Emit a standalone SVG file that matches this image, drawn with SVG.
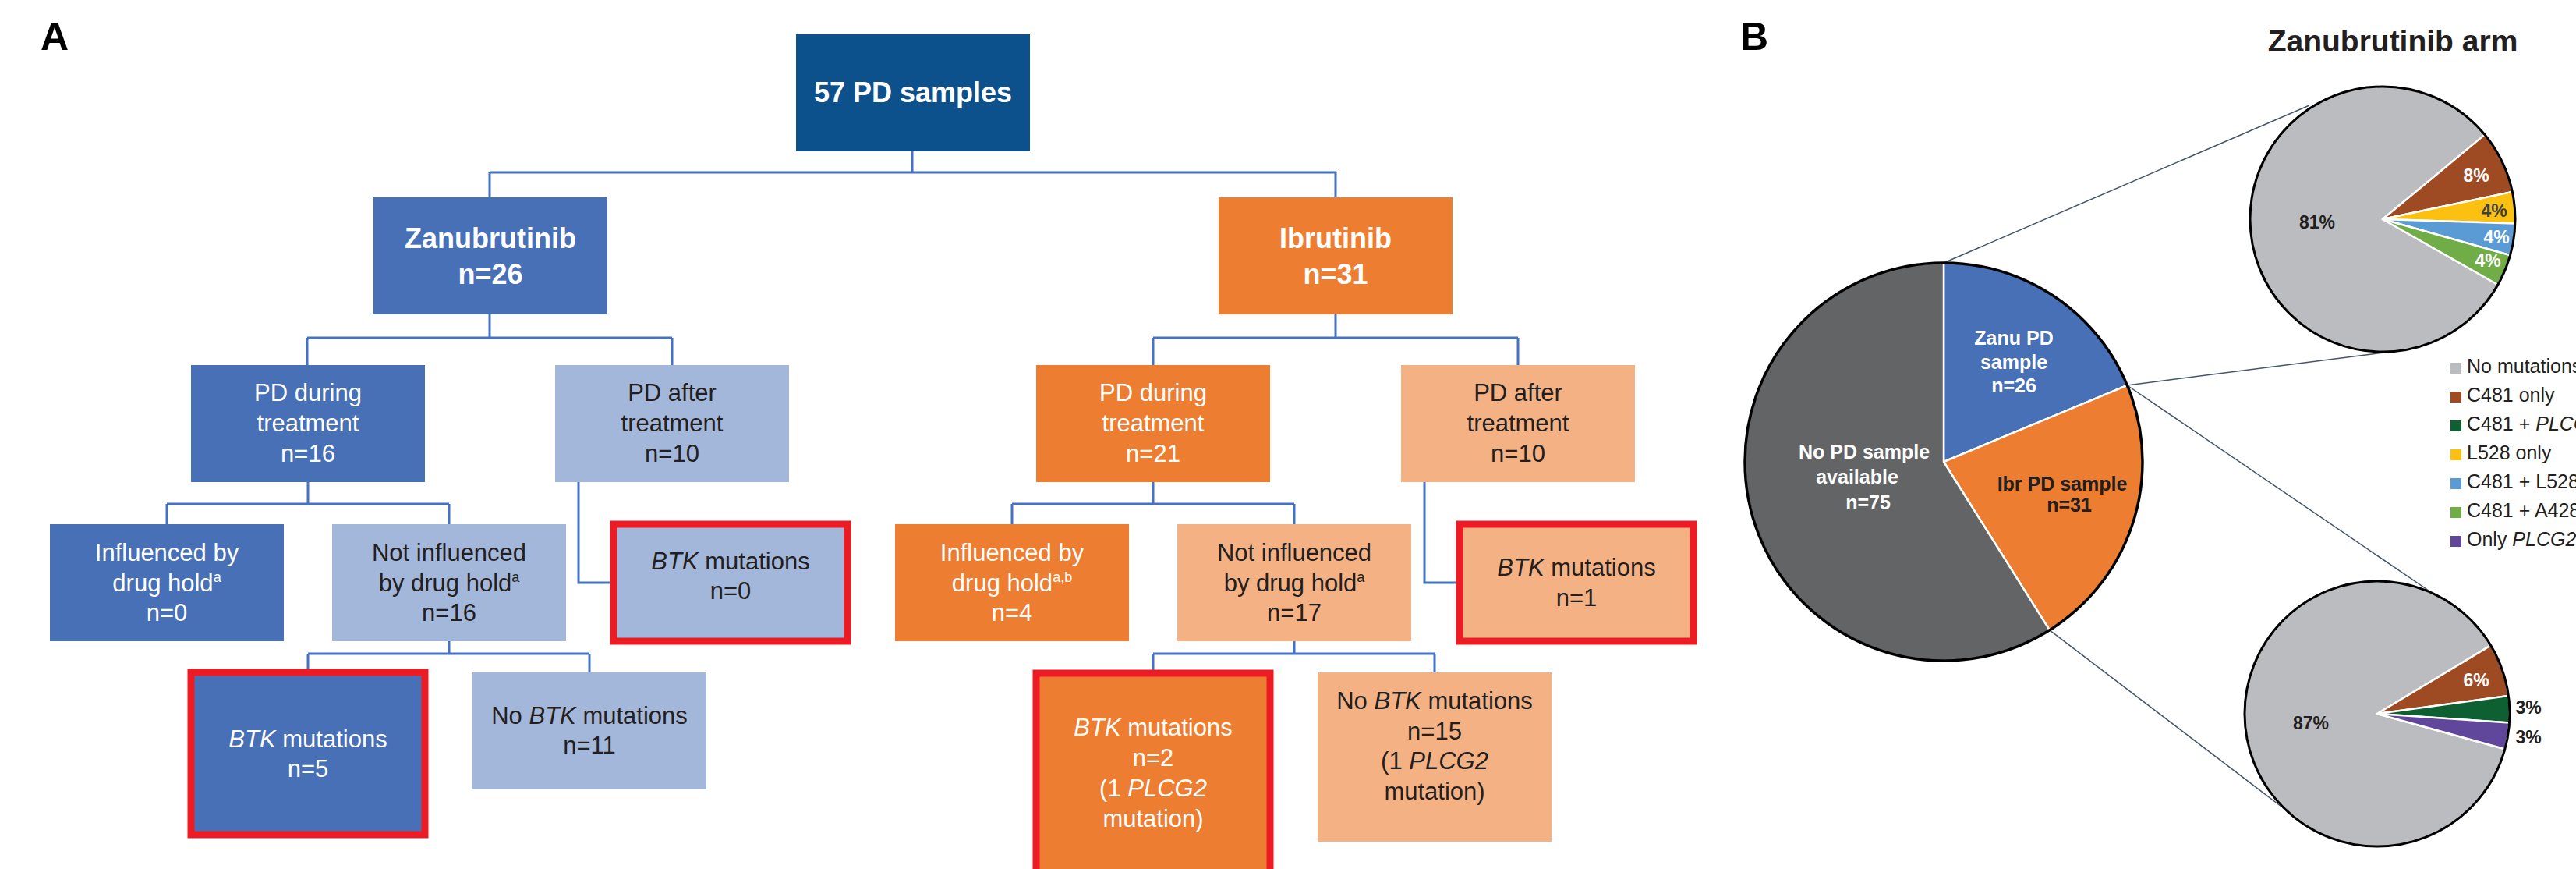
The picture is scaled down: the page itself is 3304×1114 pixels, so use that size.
<svg xmlns="http://www.w3.org/2000/svg" width="3304" height="1114" viewBox="0 0 3304 1114">
<style>
text{font-family:"Liberation Sans",Arial,sans-serif;}
.t{font-size:31px;text-anchor:middle;}
.w{fill:#fff;}
.k{fill:#231F20;}
.h{font-size:36px;font-weight:bold;text-anchor:middle;fill:#fff;}
.lbl{font-size:50px;font-weight:bold;fill:#000;}
.red{stroke:#ED1C24;stroke-width:9;}
.conn{fill:none;stroke:#4472C4;stroke-width:3;}
.zoom{fill:none;stroke:#44546A;stroke-width:1.5;}
.sl{stroke:#fff;stroke-width:2.5;stroke-linejoin:round;}
.rim{fill:none;stroke:#000;stroke-width:3.5;}
.lg{font-size:25px;fill:#231F20;}
.pl{font-size:23px;font-weight:bold;text-anchor:middle;}
.pb{font-size:25px;font-weight:bold;text-anchor:middle;}
.i{font-style:italic;}
.sup{font-size:18px;}
.c1{fill:#0D518C;} .c2{fill:#4770B7;} .c3{fill:#A3B7DA;} .c4{fill:#ED7D31;} .c5{fill:#F4B183;}
</style>

<text class="lbl" x="52" y="64">A</text>
<text class="lbl" x="2232" y="64">B</text>

<g id="connectors" class="conn">
<path d="M1170,194V221M628,221H1713M628,221V253M1713,221V253"/>
<path d="M628,403V433M394,433H862M394,433V468M862,433V468"/>
<path d="M1713,403V433M1479,433H1947M1479,433V468M1947,433V468"/>
<path d="M395,618V646M214,646H576M214,646V672M576,646V672"/>
<path d="M742,618V747H787"/>
<path d="M1479,618V646M1298,646H1660M1298,646V672M1660,646V672"/>
<path d="M1827,618V747H1872"/>
<path d="M576,822V838M395,838H756M395,838V862M756,838V862"/>
<path d="M1660,822V838M1479,838H1840M1479,838V863M1840,838V862"/>
</g>

<g id="n-root"><rect class="c1" x="1021" y="44" width="300" height="150"/><text class="h" x="1171" y="131">57 PD samples</text></g>

<g id="n-zanu"><rect class="c2" x="479" y="253" width="300" height="150"/><text class="h" x="629" y="318">Zanubrutinib</text><text class="h" x="629" y="364">n=26</text></g>
<g id="n-ibr"><rect class="c4" x="1563" y="253" width="300" height="150"/><text class="h" x="1713" y="318">Ibrutinib</text><text class="h" x="1713" y="364">n=31</text></g>

<g id="n-zanu-during"><rect class="c2" x="245" y="468" width="300" height="150"/><text class="t w" x="395" y="514">PD during</text><text class="t w" x="395" y="553">treatment</text><text class="t w" x="395" y="592">n=16</text></g>
<g id="n-zanu-after"><rect class="c3" x="712" y="468" width="300" height="150"/><text class="t k" x="862" y="514">PD after</text><text class="t k" x="862" y="553">treatment</text><text class="t k" x="862" y="592">n=10</text></g>
<g id="n-ibr-during"><rect class="c4" x="1329" y="468" width="300" height="150"/><text class="t w" x="1479" y="514">PD during</text><text class="t w" x="1479" y="553">treatment</text><text class="t w" x="1479" y="592">n=21</text></g>
<g id="n-ibr-after"><rect class="c5" x="1797" y="468" width="300" height="150"/><text class="t k" x="1947" y="514">PD after</text><text class="t k" x="1947" y="553">treatment</text><text class="t k" x="1947" y="592">n=10</text></g>

<g id="n-zanu-infl"><rect class="c2" x="64" y="672" width="300" height="150"/><text class="t w" x="214" y="719">Influenced by</text><text class="t w" x="214" y="758">drug hold<tspan class="sup" dy="-12">a</tspan></text><text class="t w" x="214" y="796">n=0</text></g>
<g id="n-zanu-notinfl"><rect class="c3" x="426" y="672" width="300" height="150"/><text class="t k" x="576" y="719">Not influenced</text><text class="t k" x="576" y="758">by drug hold<tspan class="sup" dy="-12">a</tspan></text><text class="t k" x="576" y="796">n=16</text></g>
<g id="n-zanu-btk0"><rect class="c3 red" x="787" y="672" width="300" height="150"/><text class="t k" x="937" y="730"><tspan class="i">BTK</tspan> mutations</text><text class="t k" x="937" y="768">n=0</text></g>
<g id="n-ibr-infl"><rect class="c4" x="1148" y="672" width="300" height="150"/><text class="t w" x="1298" y="719">Influenced by</text><text class="t w" x="1298" y="758">drug hold<tspan class="sup" dy="-12">a,b</tspan></text><text class="t w" x="1298" y="796">n=4</text></g>
<g id="n-ibr-notinfl"><rect class="c5" x="1510" y="672" width="300" height="150"/><text class="t k" x="1660" y="719">Not influenced</text><text class="t k" x="1660" y="758">by drug hold<tspan class="sup" dy="-12">a</tspan></text><text class="t k" x="1660" y="796">n=17</text></g>
<g id="n-ibr-btk1"><rect class="c5 red" x="1872" y="672" width="300" height="150"/><text class="t k" x="2022" y="738"><tspan class="i">BTK</tspan> mutations</text><text class="t k" x="2022" y="777">n=1</text></g>

<g id="n-zanu-btk5"><rect class="c2 red" x="245" y="862" width="300" height="208"/><text class="t w" x="395" y="958"><tspan class="i">BTK</tspan> mutations</text><text class="t w" x="395" y="996">n=5</text></g>
<g id="n-zanu-nobtk"><rect class="c3" x="606" y="862" width="300" height="150"/><text class="t k" x="756" y="928">No <tspan class="i">BTK</tspan> mutations</text><text class="t k" x="756" y="966">n=11</text></g>
<g id="n-ibr-btk2"><rect class="c4 red" x="1329" y="863" width="300" height="275"/><text class="t w" x="1479" y="943"><tspan class="i">BTK</tspan> mutations</text><text class="t w" x="1479" y="982">n=2</text><text class="t w" x="1479" y="1021">(1 <tspan class="i">PLCG2</tspan></text><text class="t w" x="1479" y="1060">mutation)</text></g>
<g id="n-ibr-nobtk"><rect class="c5" x="1690" y="862" width="300" height="217"/><text class="t k" x="1840" y="909">No <tspan class="i">BTK</tspan> mutations</text><text class="t k" x="1840" y="948">n=15</text><text class="t k" x="1840" y="986">(1 <tspan class="i">PLCG2</tspan></text><text class="t k" x="1840" y="1025">mutation)</text></g>

<!-- Panel B -->
<g id="zoom-lines" class="zoom">
<path d="M2493,337L2962,135"/>
<path d="M2728.4,494L3057,452"/>
<path d="M2728.4,494L3121.5,761.5"/>
<path d="M2628.9,807.8L2926,1034"/>
</g>

<g id="pie-main">
<path class="sl" fill="#4770B7" d="M2493,592L2493,337A255,255 0 0 1 2728.4,494Z"/>
<path class="sl" fill="#ED7D31" d="M2493,592L2728.4,494A255,255 0 0 1 2628.9,807.8Z"/>
<path class="sl" fill="#636466" d="M2493,592L2628.9,807.8A255,255 0 1 1 2493,337Z"/>
<circle class="rim" cx="2493" cy="592" r="255"/>
<text class="pb w" x="2583" y="442">Zanu PD</text>
<text class="pb w" x="2583" y="473">sample</text>
<text class="pb w" x="2583" y="503">n=26</text>
<text class="pb w" x="2391" y="588">No PD sample</text>
<text class="pb w" x="2382" y="620">available</text>
<text class="pb w" x="2396" y="653">n=75</text>
<text class="pb k" x="2645" y="629">Ibr PD sample</text>
<text class="pb k" x="2654" y="656">n=31</text>
</g>

<text x="3069" y="66" font-size="39" font-weight="bold" text-anchor="middle" fill="#231F20">Zanubrutinib arm</text>

<g id="pie-zanu">
<path class="sl" fill="#BBBCC0" d="M3056,281L3203.8,365A170,170 0 1 1 3187,172.6Z"/>
<path class="sl" fill="#9E4A22" d="M3056,281L3187,172.6A170,170 0 0 1 3222.3,245.9Z"/>
<path class="sl" fill="#FCC010" d="M3056,281L3222.3,245.9A170,170 0 0 1 3225.9,286.6Z"/>
<path class="sl" fill="#5B9BD5" d="M3056,281L3225.9,286.6A170,170 0 0 1 3219.6,327.3Z"/>
<path class="sl" fill="#70AD47" d="M3056,281L3219.6,327.3A170,170 0 0 1 3203.8,365Z"/>
<circle class="rim" cx="3056" cy="281" r="170" style="stroke-width:3"/>
<text class="pl k" x="2972" y="293">81%</text>
<text class="pl w" x="3176" y="233">8%</text>
<text class="pl" x="3199" y="278" fill="#404040">4%</text>
<text class="pl w" x="3202" y="312">4%</text>
<text class="pl w" x="3191" y="342">4%</text>
</g>

<g id="pie-ibr">
<path class="sl" fill="#BBBCC0" d="M3049,915L3212.9,960.3A170,170 0 1 1 3194.7,827.4Z"/>
<path class="sl" fill="#9E4A22" d="M3049,915L3194.7,827.4A170,170 0 0 1 3217.4,892Z"/>
<path class="sl" fill="#0E6032" d="M3049,915L3217.4,892A170,170 0 0 1 3218.6,926.4Z"/>
<path class="sl" fill="#60479C" d="M3049,915L3218.6,926.4A170,170 0 0 1 3212.9,960.3Z"/>
<circle class="rim" cx="3049" cy="915" r="170" style="stroke-width:3"/>
<text class="pl k" x="2964" y="935">87%</text>
<text class="pl w" x="3176" y="880">6%</text>
<text class="pl k" x="3243" y="915">3%</text>
<text class="pl k" x="3243" y="953">3%</text>
</g>

<g id="legend">
<rect x="3143" y="465" width="14" height="14" fill="#BBBCC0"/><text class="lg" x="3164" y="478">No mutations</text>
<rect x="3143" y="502" width="14" height="14" fill="#9E4A22"/><text class="lg" x="3164" y="515">C481 only</text>
<rect x="3143" y="539" width="14" height="14" fill="#0E6032"/><text class="lg" x="3164" y="552">C481 + <tspan class="i">PLCG2</tspan></text>
<rect x="3143" y="576" width="14" height="14" fill="#FCC010"/><text class="lg" x="3164" y="589">L528 only</text>
<rect x="3143" y="613" width="14" height="14" fill="#5B9BD5"/><text class="lg" x="3164" y="626">C481 + L528</text>
<rect x="3143" y="650" width="14" height="14" fill="#70AD47"/><text class="lg" x="3164" y="663">C481 + A428</text>
<rect x="3143" y="687" width="14" height="14" fill="#60479C"/><text class="lg" x="3164" y="700">Only <tspan class="i">PLCG2</tspan></text>
</g>
</svg>
